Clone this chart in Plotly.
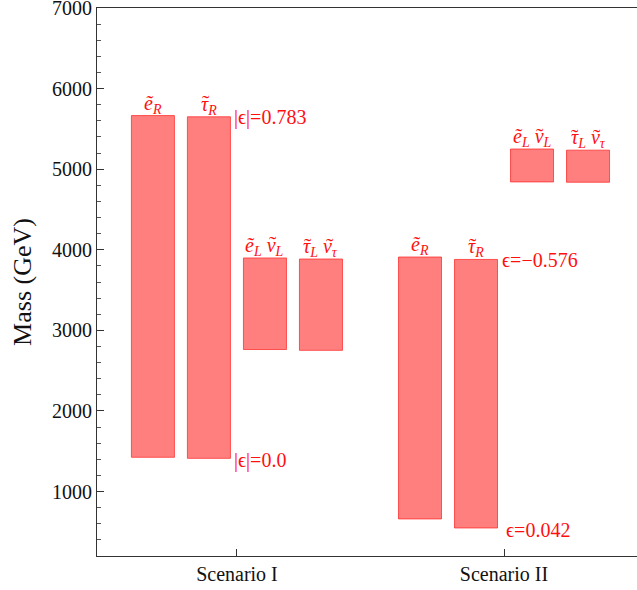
import plotly.graph_objects as go

# Slepton mass ranges (GeV) for the two scenarios
categories = ["Scenario I", "Scenario II"]

e_R_low = [1425, 660]
e_R_high = [5665, 3910]
tau_R_low = [1412, 548]
tau_R_high = [5650, 3880]
eL_nuL_low = [2762, 4842]
eL_nuL_high = [3898, 5250]
tauL_nutau_low = [2752, 4838]
tauL_nutau_high = [3885, 5236]

# particle names; the tilde over Greek letters is added as a separate mark
series_labels = [
    "<i>e\u0303</i><sub><i>R</i></sub>",
    "<i>\u03c4</i><sub><i>R</i></sub>",
    "<i>e\u0303</i><sub><i>L</i></sub> <i>\u03bd</i><sub><i>L</i></sub>",
    "<i>\u03c4</i><sub><i>L</i></sub> <i>\u03bd</i><sub><i>\u03c4</i></sub>",
]
# horizontal pixel offsets of the tildes over the Greek letters in each label
tilde_offsets = [[], [-3.3], [8.0], [-13.0, 8.7]]

# epsilon labels attached to the tau_R ranges: (scenario index, at top?, text)
eps_labels = [
    (0, True, "|\u03f5|=0.783"),
    (0, False, "|\u03f5|=0.0"),
    (1, True, "\u03f5=\u22120.576"),
    (1, False, "\u03f5=0.042"),
]

series = [
    (e_R_low, e_R_high),
    (tau_R_low, tau_R_high),
    (eL_nuL_low, eL_nuL_high),
    (tauL_nutau_low, tauL_nutau_high),
]

FONT = "Liberation Serif"
RED = "#ff1010"
BARGAP = 0.161
BARGROUPGAP = 0.232
slot = (1 - BARGAP) / len(series)
half_bar = slot * (1 - BARGROUPGAP) / 2

fig = go.Figure()
for lo, hi in series:
    fig.add_trace(go.Bar(
        x=categories,
        base=lo,
        y=[h - l for l, h in zip(lo, hi)],
        marker=dict(color="rgba(255,0,0,0.5)",
                    line=dict(color="rgba(255,40,40,0.75)", width=1)),
        showlegend=False,
        hoverinfo="skip",
    ))

annotations = []
# particle names above each bar
for k, ((lo, hi), name) in enumerate(zip(series, series_labels)):
    off = (k - (len(series) - 1) / 2) * slot
    for i in range(len(categories)):
        annotations.append(dict(
            x=i + off, y=hi[i], xref="x", yref="y",
            text=name, showarrow=False, xanchor="center", yanchor="bottom",
            yshift=-3, font=dict(family=FONT, size=20, color=RED),
        ))
        for dx in tilde_offsets[k]:
            annotations.append(dict(
                x=i + off, y=hi[i], xref="x", yref="y",
                text="\u02dc", showarrow=False, xanchor="center", yanchor="middle",
                xshift=dx, yshift=14, font=dict(family=FONT, size=22, color=RED),
            ))

# epsilon values next to the tau_R bars
tau_off = (1 - (len(series) - 1) / 2) * slot
for i, top, txt in eps_labels:
    yv = tau_R_high[i] if top else tau_R_low[i]
    annotations.append(dict(
        x=i + tau_off + half_bar, y=yv, xref="x", yref="y",
        text=txt, showarrow=False, xanchor="left", yanchor="middle",
        xshift=2 if (top or i == 0) else 6, yshift=-1 if top else -2,
        font=dict(family=FONT, size=20, color=RED),
    ))

fig.update_layout(
    width=637, height=590,
    margin=dict(l=97, r=0, t=8, b=34),
    paper_bgcolor="white", plot_bgcolor="white",
    barmode="group", bargap=BARGAP, bargroupgap=BARGROUPGAP,
    annotations=annotations,
    font=dict(family=FONT, color="#111111"),
)

fig.update_xaxes(
    type="category", range=[-0.524, 1.498],
    showline=True, linecolor="#333333", linewidth=1, mirror=True,
    ticks="inside", ticklen=7, tickcolor="#333333",
    tickfont=dict(family=FONT, size=20, color="#111111"),
    showgrid=False, zeroline=False, automargin=False,
)
fig.update_yaxes(
    range=[200, 7000], tickvals=[1000, 2000, 3000, 4000, 5000, 6000, 7000],
    ticklabeloverflow="allow", automargin="left",
    showline=True, linecolor="#333333", linewidth=1,
    ticks="inside", ticklen=7, tickcolor="#333333",
    minor=dict(dtick=200, ticks="inside", ticklen=4, tickcolor="#555555"),
    tickfont=dict(family=FONT, size=20, color="#111111"),
    title=dict(text="Mass (GeV)", font=dict(family=FONT, size=26, color="#111111"),
               standoff=12),
    showgrid=False, zeroline=False,
)

fig.write_html("out.html")
